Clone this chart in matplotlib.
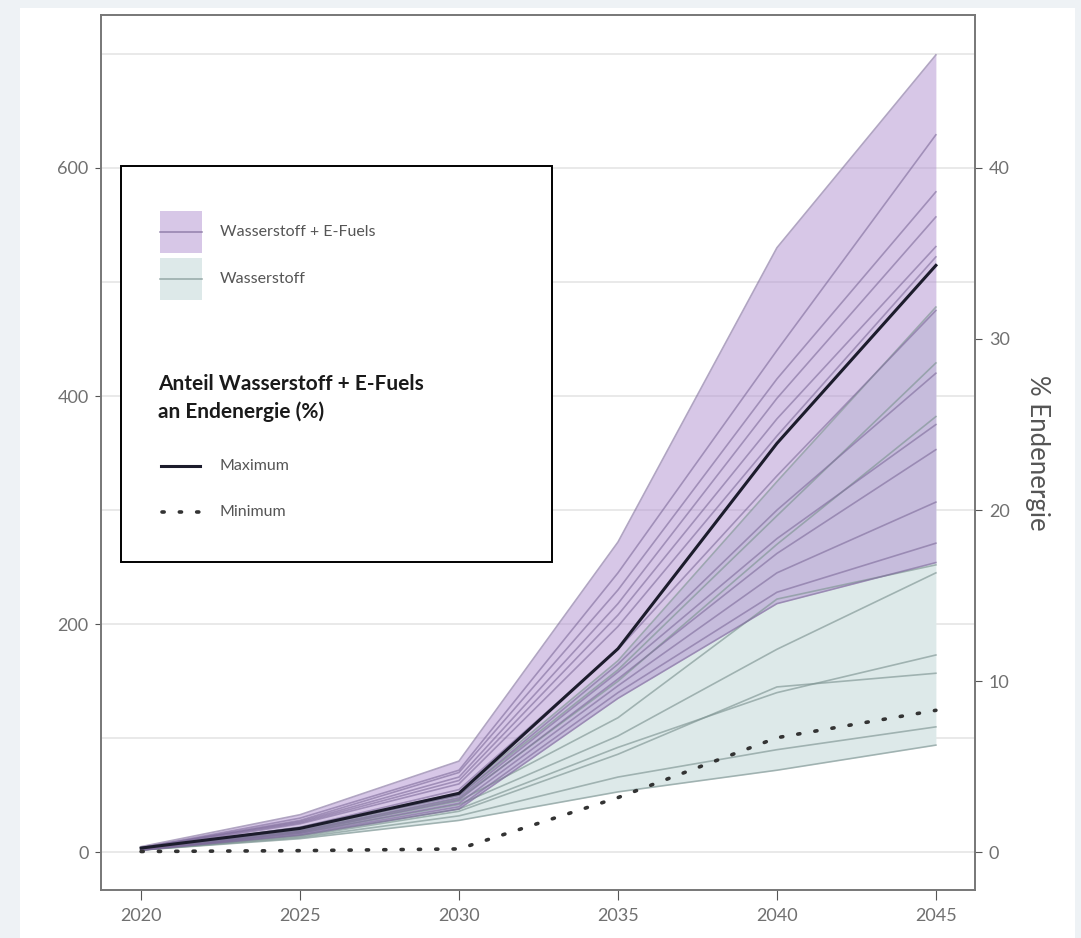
import matplotlib
matplotlib.use("Agg")
import matplotlib.pyplot as plt
from matplotlib import font_manager
from matplotlib.patches import Rectangle
from matplotlib.lines import Line2D


def pick_font(names):
    for n in names:
        try:
            font_manager.findfont(n, fallback_to_default=False)
            return n
        except Exception:
            pass
    return "DejaVu Sans"


plt.rcParams['font.family'] = [pick_font(['Liberation Sans Narrow', 'Lato']), 'DejaVu Sans']

# Daten (TWh bzw. % Endenergie)
jahre = [2020, 2025, 2030, 2035, 2040, 2045]

# Szenarien Wasserstoff + E-Fuels
szen_efuels = [
    [5, 33, 80, 272, 530, 699],
    [4, 30, 72, 245, 440, 629],
    [4, 28, 70, 230, 415, 579],
    [4, 27, 66, 218, 398, 557],
    [4, 26, 63, 208, 380, 531],
    [3, 25, 60, 198, 365, 522],
    [3, 22, 55, 178, 330, 475],
    [3, 21, 50, 165, 300, 420],
    [3, 19, 48, 158, 275, 375],
    [2, 18, 46, 152, 262, 353],
    [2, 17, 43, 146, 245, 307],
    [2, 16, 40, 140, 228, 271],
    [2, 15, 38, 135, 218, 254],
]

# Szenarien nur Wasserstoff
szen_h2 = [
    [3, 22, 52, 168, 325, 478],
    [3, 20, 50, 160, 295, 429],
    [3, 19, 47, 150, 270, 382],
    [3, 18, 45, 118, 222, 252],
    [3, 17, 42, 102, 178, 245],
    [2, 15, 38, 92, 140, 173],
    [2, 14, 36, 86, 145, 157],
    [2, 13, 32, 66, 90, 110],
    [2, 12, 28, 53, 72, 94],
]

# Anteil an Endenergie (%)
anteil_max = [0.25, 1.4, 3.45, 11.9, 23.9, 34.3]
anteil_min = [0.05, 0.1, 0.2, 3.2, 6.7, 8.3]

links_ticks = [0, 200, 400, 600]
rechts_ticks = [0, 10, 20, 30, 40]
gitter = [0, 100, 200, 300, 400, 500, 600, 700]

lila = '#b191d1'
tuerkis = '#dde9e9'
lila_linie = '#7d6a9a'
tuerkis_linie = '#7f9593'
grau = '#707070'

fig = plt.figure(figsize=(10.81, 9.38), dpi=100, facecolor='#eef2f5')
fig.patches.append(Rectangle((20 / 1081, 0), 1055 / 1081, 930 / 938,
                             transform=fig.transFigure, facecolor='white',
                             edgecolor='none', zorder=-10))

ax = fig.add_axes([101 / 1081, 48 / 938, 874 / 1081, 875 / 938])
ax.set_facecolor('none')

for g in gitter:
    ax.axhline(g, color='#e9e9e9', lw=1.4, zorder=0)

# Baender
h2_lo = [min(v) for v in zip(*szen_h2)]
h2_hi = [max(v) for v in zip(*szen_h2)]
ef_lo = [min(v) for v in zip(*szen_efuels)]
ef_hi = [max(v) for v in zip(*szen_efuels)]

ax.fill_between(jahre, h2_lo, h2_hi, color=tuerkis, lw=0, zorder=1)
ax.fill_between(jahre, ef_lo, ef_hi, color=lila, alpha=0.5, lw=0, zorder=2)

for s in szen_h2:
    ax.plot(jahre, s, color=tuerkis_linie, lw=1.2, alpha=0.65, zorder=3)
for s in szen_efuels:
    ax.plot(jahre, s, color=lila_linie, lw=1.2, alpha=0.6, zorder=3)

ax.set_xlim(2018.74, 2046.23)
ax.set_ylim(-33, 734)
ax.set_xticks(jahre)
ax.set_yticks(links_ticks)
ax.tick_params(axis='both', colors='#555555', labelcolor=grau, labelsize=13)
ax.tick_params(axis='x', length=7, pad=6)
ax.tick_params(axis='y', length=4, pad=5)
for sp in ax.spines.values():
    sp.set_color('#777777')
    sp.set_linewidth(1.2)

# rechte Achse in %
ax2 = ax.twinx()
ax2.set_ylim(-33 / 15, 734 / 15)
ax2.set_yticks(rechts_ticks)
ax2.tick_params(axis='y', colors='#555555', labelcolor=grau, labelsize=13,
                length=5, pad=5)
for sp in ax2.spines.values():
    sp.set_color('#777777')
    sp.set_linewidth(1.2)
ax2.plot(jahre, anteil_max, color='#1c1c2c', lw=2.2, zorder=5)
ax2.plot(jahre, anteil_min, color='#333333', lw=2.6,
         linestyle=(0, (0.6, 4.2)), dash_capstyle='round', zorder=5)
ax2.set_ylabel('% Endenergie', rotation=270, fontsize=18.5, color='#555555',
               va='center')
ax2.yaxis.set_label_coords(1.071, 0.5)

# Legende
t = ax2.transAxes
ax2.add_patch(Rectangle((0.0229, 0.375), 0.493, 0.452, transform=t,
                        facecolor='white', edgecolor='black', lw=1.4, zorder=10))
ax2.add_patch(Rectangle((0.0675, 0.728), 0.048, 0.048, transform=t,
                        facecolor=lila, alpha=0.5, lw=0, zorder=11))
ax2.add_line(Line2D([0.0675, 0.1155], [0.752, 0.752], transform=t,
                    color=lila_linie, lw=1.2, alpha=0.7, zorder=12))
ax2.add_patch(Rectangle((0.0675, 0.674), 0.048, 0.048, transform=t,
                        facecolor=tuerkis, lw=0, zorder=11))
ax2.add_line(Line2D([0.0675, 0.1155], [0.698, 0.698], transform=t,
                    color=tuerkis_linie, lw=1.2, alpha=0.7, zorder=12))
ax2.text(0.136, 0.752, 'Wasserstoff + E-Fuels', transform=t, fontsize=11.5,
         color='#555555', va='center', zorder=12)
ax2.text(0.136, 0.698, 'Wasserstoff', transform=t, fontsize=11.5,
         color='#555555', va='center', zorder=12)
ax2.text(0.065, 0.562, 'Anteil Wasserstoff + E-Fuels\nan Endenergie (%)',
         transform=t, fontsize=15, fontweight='bold', color='#1a1a1a',
         va='center', linespacing=1.45, zorder=12)
ax2.add_line(Line2D([0.0686, 0.1133], [0.485, 0.485], transform=t,
                    color='#1c1c2c', lw=2.2, zorder=12))
ax2.text(0.136, 0.485, 'Maximum', transform=t, fontsize=11.5,
         color='#555555', va='center', zorder=12)
ax2.add_line(Line2D([0.0700, 0.1120], [0.432, 0.432], transform=t,
                    color='#333333', lw=2.6, linestyle=(0, (0.6, 4.2)),
                    dash_capstyle='round', zorder=12))
ax2.text(0.136, 0.432, 'Minimum', transform=t, fontsize=11.5,
         color='#555555', va='center', zorder=12)

fig.savefig('out.png', dpi=100, facecolor=fig.get_facecolor())
